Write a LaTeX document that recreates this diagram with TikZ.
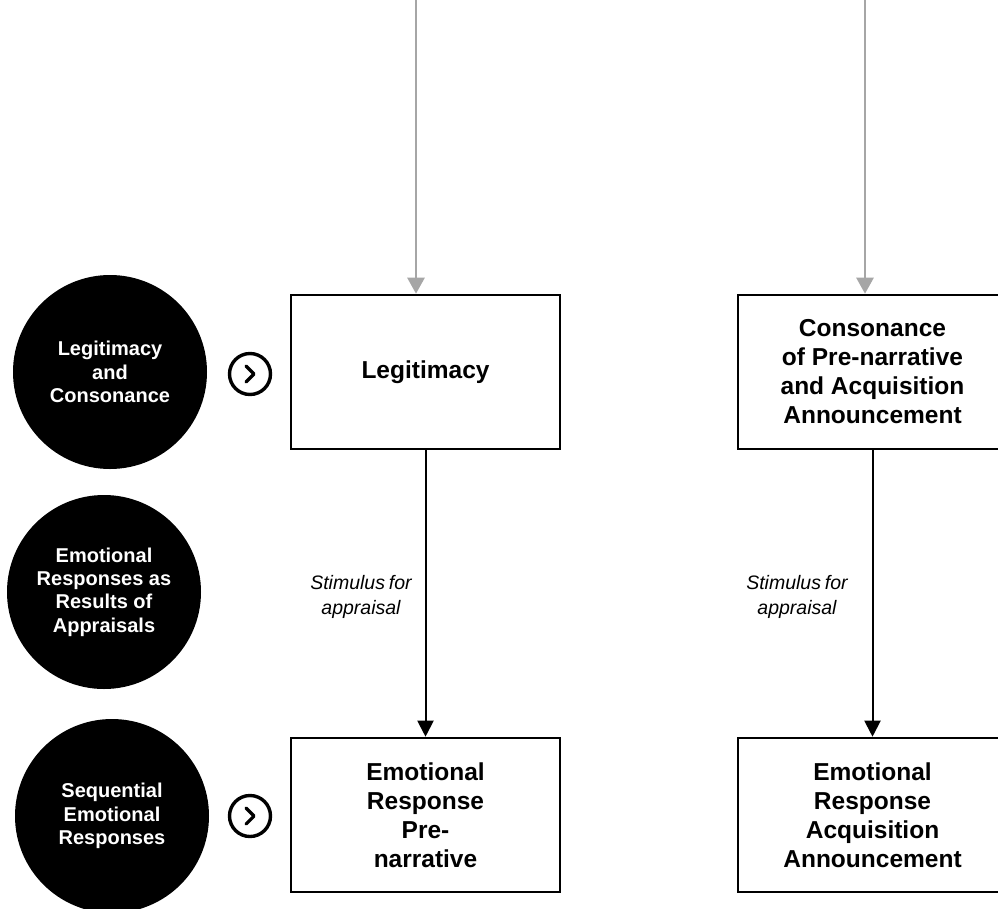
\documentclass[tikz,border=0pt]{standalone}
\usepackage{fontspec}
\setmainfont{Liberation Sans}
\usetikzlibrary{arrows.meta}
\definecolor{feedgray}{RGB}{166,166,166}
\begin{document}
\begin{tikzpicture}[x=1pt,y=-1pt,
  stagebox/.style={draw=black, line width=2.6pt, fill=white, minimum width=269pt,
    minimum height=154pt, inner sep=0pt, align=center,
    font=\bfseries\fontsize{24.5}{29}\selectfont},
  phase/.style={circle, fill=black, minimum size=194pt, inner sep=0pt, align=center,
    text=white, font=\bfseries\fontsize{20}{23.3}\selectfont},
  nextmark/.style={circle, draw=black, line width=3.4pt, minimum size=41pt, inner sep=0pt},
  chevron/.style={line width=3.2pt, line cap=round, line join=round},
  feed/.style={draw=feedgray, line width=2.6pt, -{Triangle[width=17pt,length=16pt]}},
  flow/.style={draw=black, line width=2pt, -{Triangle[width=16pt,length=16pt]}},
  cue/.style={align=center, font=\itshape\fontsize{19.5}{25}\selectfont}
]
\clip (0,0) rectangle (998,908);
\fill[white] (0,0) rectangle (998,908);

% phase markers on the left
\node[phase] (p1) at (110,372) {Legitimacy\\and\\Consonance};
\node[phase] (p2) at (104,592) {Emotional\\Responses as\\Results of\\Appraisals};
\node[phase] (p3) at (112,816) {Sequential\\Emotional\\Responses};

% "next" markers
\node[nextmark] (n1) at (250,374) {};
\node[nextmark] (n3) at (250,816) {};
\draw[chevron] ([shift={(-4,-8)}]n1.center) -- ([shift={(4,0)}]n1.center) -- ([shift={(-4,8)}]n1.center);
\draw[chevron] ([shift={(-4,-8)}]n3.center) -- ([shift={(4,0)}]n3.center) -- ([shift={(-4,8)}]n3.center);

% stage boxes
\node[stagebox] (b1) at (425.5,372) {Legitimacy};
\node[stagebox] (b2) at (872.5,372) {Consonance\\of Pre-narrative\\and Acquisition\\Announcement};
\node[stagebox] (b3) at (425.5,815) {Emotional\\Response\\Pre-\\narrative};
\node[stagebox] (b4) at (872.5,815) {Emotional\\Response\\Acquisition\\Announcement};

% incoming feeds from above
\coordinate (f1) at (416,0);
\coordinate (f2) at (865,0);
\draw[feed] (f1) -- (f1 |- b1.north);
\draw[feed] (f2) -- (f2 |- b2.north);

% appraisal links
\draw[flow] (b1.south) -- (b3.north);
\draw[flow] (b2.south) -- (b4.north);
\node[cue] (s1) at (361,597) {Stimulus\hspace{0.2em}for\\appraisal};
\node[cue] (s2) at (797,597) {Stimulus\hspace{0.2em}for\\appraisal};
\end{tikzpicture}
\end{document}
